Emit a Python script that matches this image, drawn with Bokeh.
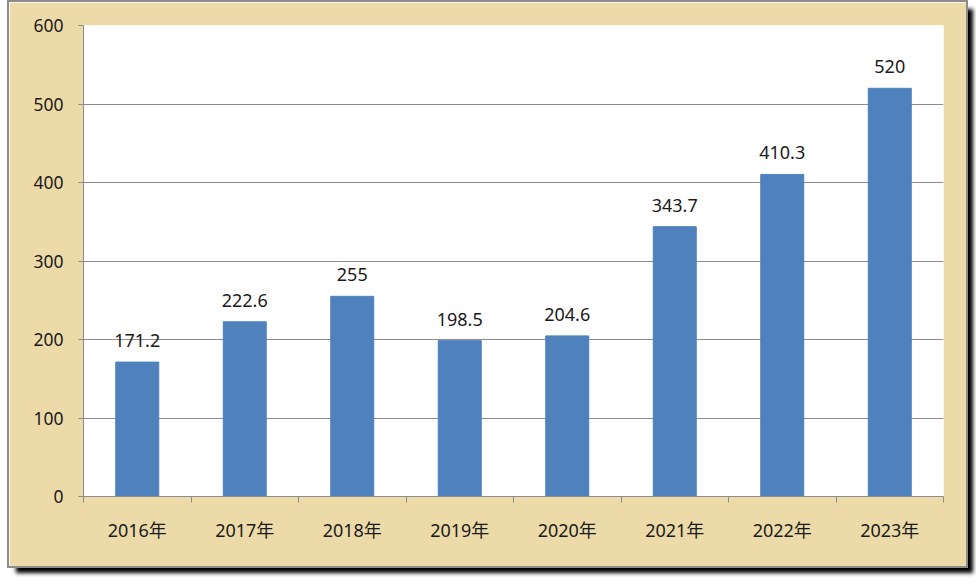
from bokeh.plotting import figure
from bokeh.models import FixedTicker, ColumnDataSource, LabelSet, Range1d
from bokeh.core.properties import value
from bokeh.embed import file_html
from bokeh.resources import INLINE

years = ["2016年", "2017年", "2018年", "2019年", "2020年", "2021年", "2022年", "2023年"]
values = [171.2, 222.6, 255, 198.5, 204.6, 343.7, 410.3, 520]
value_labels = ["171.2", "222.6", "255", "198.5", "204.6", "343.7", "410.3", "520"]
y_ticks = [0, 100, 200, 300, 400, 500, 600]

FONT = "'Noto Sans', 'Noto Sans CJK SC'"

x = list(range(1, len(years) + 1))
src = ColumnDataSource(dict(x=x, v=values, lab=value_labels))

p = figure(width=957, height=564,
           x_range=Range1d(0.5, len(years) + 0.5), y_range=Range1d(0, 600),
           output_backend="svg", toolbar_location=None,
           min_border_left=74, min_border_right=23, min_border_top=23, min_border_bottom=70)

p.background_fill_color = "white"
p.border_fill_color = "#EDDAA9"
p.outline_line_color = None
p.styles = {"margin-left": "9px", "margin-top": "2px",
            "box-shadow": "0 0 0 2px #8c8c8c, 7px 7px 4px #000"}

p.vbar(x="x", top="v", width=0.4, source=src, color="#4F81BD")

labels = LabelSet(x="x", y="v", text="lab", source=src, text_align="center",
                  text_baseline="bottom", y_offset=15,
                  text_font=value(FONT), text_font_size="18px", text_color="#1a1a1a")
p.add_layout(labels)

p.xgrid.visible = False
p.ygrid.grid_line_color = "#8c8c8c"
p.ygrid.ticker = FixedTicker(ticks=y_ticks)

p.xaxis.ticker = FixedTicker(ticks=x, minor_ticks=[i + 0.5 for i in range(0, len(years) + 1)])
p.xaxis.major_label_overrides = {i: y for i, y in zip(x, years)}
p.xaxis.major_tick_out = 0
p.xaxis.major_tick_in = 0
p.xaxis.minor_tick_out = 6
p.xaxis.minor_tick_in = 0
p.xaxis.minor_tick_line_color = "#8c8c8c"
p.xaxis.axis_line_color = "#8c8c8c"
p.xaxis.major_label_standoff = 15
p.xaxis.major_label_text_font_size = "18px"

p.yaxis.ticker = FixedTicker(ticks=y_ticks)
p.yaxis.major_tick_out = 5
p.yaxis.major_tick_in = 0
p.yaxis.minor_tick_line_color = None
p.yaxis.major_tick_line_color = "#8c8c8c"
p.yaxis.axis_line_color = "#8c8c8c"
p.yaxis.major_label_standoff = 15
p.yaxis.major_label_text_font_size = "17.5px"

for ax in (p.xaxis, p.yaxis):
    ax.major_label_text_font = FONT
    ax.major_label_text_color = "#1a1a1a"

open("out.html", "w").write(file_html(p, INLINE))
